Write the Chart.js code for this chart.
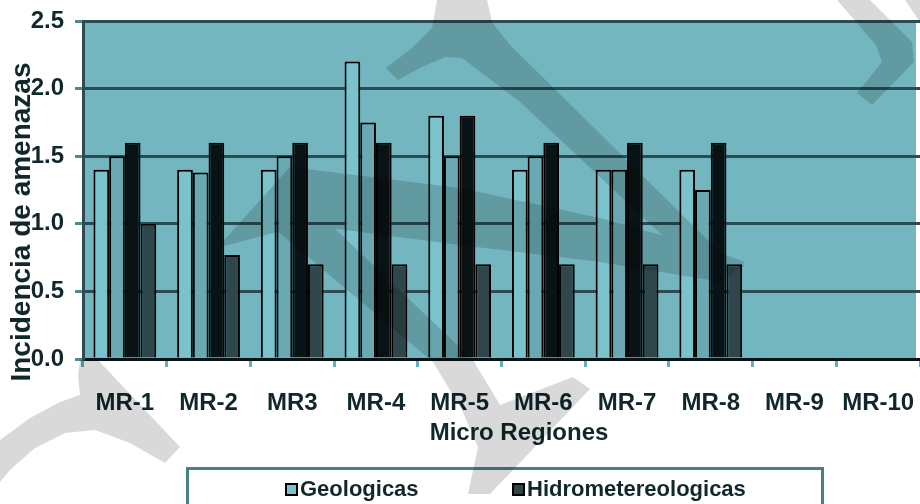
<!DOCTYPE html>
<html><head><meta charset="utf-8">
<script src="https://cdn.jsdelivr.net/npm/chart.js@4.4.1/dist/chart.umd.min.js"></script>
<style>html,body{margin:0;padding:0;background:#fff;overflow:hidden}canvas{display:block}</style>
</head><body>
<canvas id="c" width="920" height="504"></canvas>
<script>
// ---- data ----
const categories = ['MR-1','MR-2','MR3','MR-4','MR-5','MR-6','MR-7','MR-8','MR-9','MR-10'];
const geologicas = [1.4, 1.4, 1.4, 2.2, 1.8, 1.4, 1.4, 1.4, null, null];
const serie2     = [1.5, 1.38, 1.5, 1.75, 1.5, 1.5, 1.4, 1.25, null, null];
const serie3     = [1.6, 1.6, 1.6, 1.6, 1.8, 1.6, 1.6, 1.6, null, null];
const hidro      = [1.0, 0.77, 0.7, 0.7, 0.7, 0.7, 0.7, 0.7, null, null];
const seriesNames = ['Geologicas', 'Serie 2', 'Serie 3', 'Hidrometereologicas'];
const legendShown = [0, 3];
const yTicks = [0, 0.5, 1.0, 1.5, 2.0, 2.5];
const xTitle = 'Micro Regiones';
const yTitle = 'Incidencia de amenazas';

// ---- styles ----
const FONT = '"Liberation Sans", Arial, Helvetica, sans-serif';
const TXT = '#10272b';
const colors = ['#7ac3cc', '#6aa9b2', '#091214', '#2f474b'];
const PLOT_BG = '#73b6bf';

const bgPlugin = {
  id: 'bg',
  beforeDraw(chart) {
    const {ctx, chartArea: a} = chart;
    ctx.save();
    ctx.fillStyle = PLOT_BG;
    ctx.fillRect(a.left, a.top, Math.min(a.right, 916) - a.left, a.bottom - a.top);
    ctx.restore();
  }
};

function drawWatermark(ctx) {
  const off = document.createElement('canvas');
  off.width = 920; off.height = 504;
  const o = off.getContext('2d');
  o.fillStyle = '#000';
  const polys = [
    // bottom-left arch
    [[80,360],[98,360],[180,447],[165,463],[130,443],[95,430],[65,433],[35,448],[10,470],[0,482],[0,440],[30,418],[60,402],[80,395],[78,375]],
    // left wedge / horizontal band
    [[217,248],[290,167],[460,188],[600,218],[700,246],[745,262],[722,282],[600,262],[460,245],[330,228],[277,232]],
    // descending band + Y below axis
    [[292,188],[473,360],[500,405],[573,377],[590,389],[490,494],[468,494],[478,447],[462,410],[433,362],[276,230]],
    // big top band with hook
    [[437,0],[487,0],[492,22],[510,45],[720,252],[745,266],[712,282],[520,102],[462,58],[445,57],[420,68],[398,80],[386,68],[412,48],[432,28]],
    // top-right hook
    [[837,0],[870,0],[912,42],[914,62],[872,105],[857,93],[882,62],[876,45]],
    [[905,0],[920,0],[920,22]]
  ];
  polys.forEach(p => {
    o.beginPath();
    o.moveTo(p[0][0], p[0][1]);
    for (let i = 1; i < p.length; i++) o.lineTo(p[i][0], p[i][1]);
    o.closePath();
    o.fill();
  });
  ctx.save();
  ctx.globalAlpha = 0.15;
  ctx.drawImage(off, 0, 0);
  ctx.restore();
}

const decoPlugin = {
  id: 'deco',
  afterDraw(chart) {
    const ctx = chart.ctx;
    ctx.save();
    ctx.fillStyle = TXT;
    ctx.textBaseline = 'middle';
    ctx.textAlign = 'center';
    // y title
    ctx.save();
    ctx.translate(22, 222);
    ctx.rotate(-Math.PI / 2);
    ctx.font = 'bold 28px ' + FONT;
    ctx.fillText(yTitle, 0, 0);
    ctx.restore();
    // x title
    ctx.font = 'bold 24px ' + FONT;
    ctx.fillText(xTitle, 519, 433);
    // legend
    ctx.fillStyle = '#fff';
    ctx.fillRect(187, 468, 636, 60);
    ctx.strokeStyle = '#4b7f87';
    ctx.lineWidth = 3;
    ctx.strokeRect(187.5, 468.5, 635, 60);
    const xs = [285, 512];
    ctx.font = 'bold 22px ' + FONT;
    ctx.textAlign = 'left';
    legendShown.forEach((di, k) => {
      const ds = chart.data.datasets[di];
      const x = xs[k];
      ctx.fillStyle = ds.backgroundColor;
      ctx.fillRect(x, 483, 12, 12);
      ctx.strokeStyle = '#000';
      ctx.lineWidth = 2;
      ctx.strokeRect(x + 1, 484, 11, 11);
      ctx.fillStyle = TXT;
      ctx.fillText(ds.label, x + 15, 490);
    });
    ctx.restore();
    drawWatermark(ctx);
  }
};

const seriesData = [geologicas, serie2, serie3, hidro];
const datasets = seriesData.map((d, i) => ({
  label: seriesNames[i],
  data: d,
  backgroundColor: colors[i],
  borderColor: '#000',
  borderWidth: 2,
  categoryPercentage: 0.75,
  barPercentage: 1.0
}));

new Chart(document.getElementById('c'), {
  type: 'bar',
  data: { labels: categories, datasets },
  options: {
    responsive: false,
    animation: false,
    devicePixelRatio: 1,
    layout: { padding: { left: 0, right: -4, top: 21, bottom: 0 } },
    plugins: { legend: { display: false }, tooltip: { enabled: false }, title: { display: false } },
    scales: {
      x: {
        grid: { display: true, drawOnChartArea: false, drawTicks: true, tickLength: 8, tickColor: '#5cb2bd', tickWidth: 3, offset: true },
        border: { display: true, color: '#081315', width: 3 },
        ticks: { font: { family: FONT, size: 24, weight: 'bold' }, color: TXT, padding: 22, maxRotation: 0, autoSkip: false },
        afterFit: s => { s.height = 145; s.paddingLeft = 0; s.paddingRight = 0; }
      },
      y: {
        min: 0, max: 2.5,
        afterBuildTicks: s => { s.ticks = yTicks.map(v => ({ value: v })); },
        ticks: { callback: v => Number(v).toFixed(1), font: { family: FONT, size: 24, weight: 'bold' }, color: TXT, padding: 11 },
        grid: { color: '#2c4c51', lineWidth: 3, tickLength: 8, tickColor: '#4d8a93', tickWidth: 3 },
        border: { display: true, color: '#2c4c51', width: 3 },
        afterFit: s => { s.width = 83; s.paddingTop = 0; s.paddingBottom = 0; }
      }
    }
  },
  plugins: [bgPlugin, decoPlugin]
});
</script>
</body></html>
